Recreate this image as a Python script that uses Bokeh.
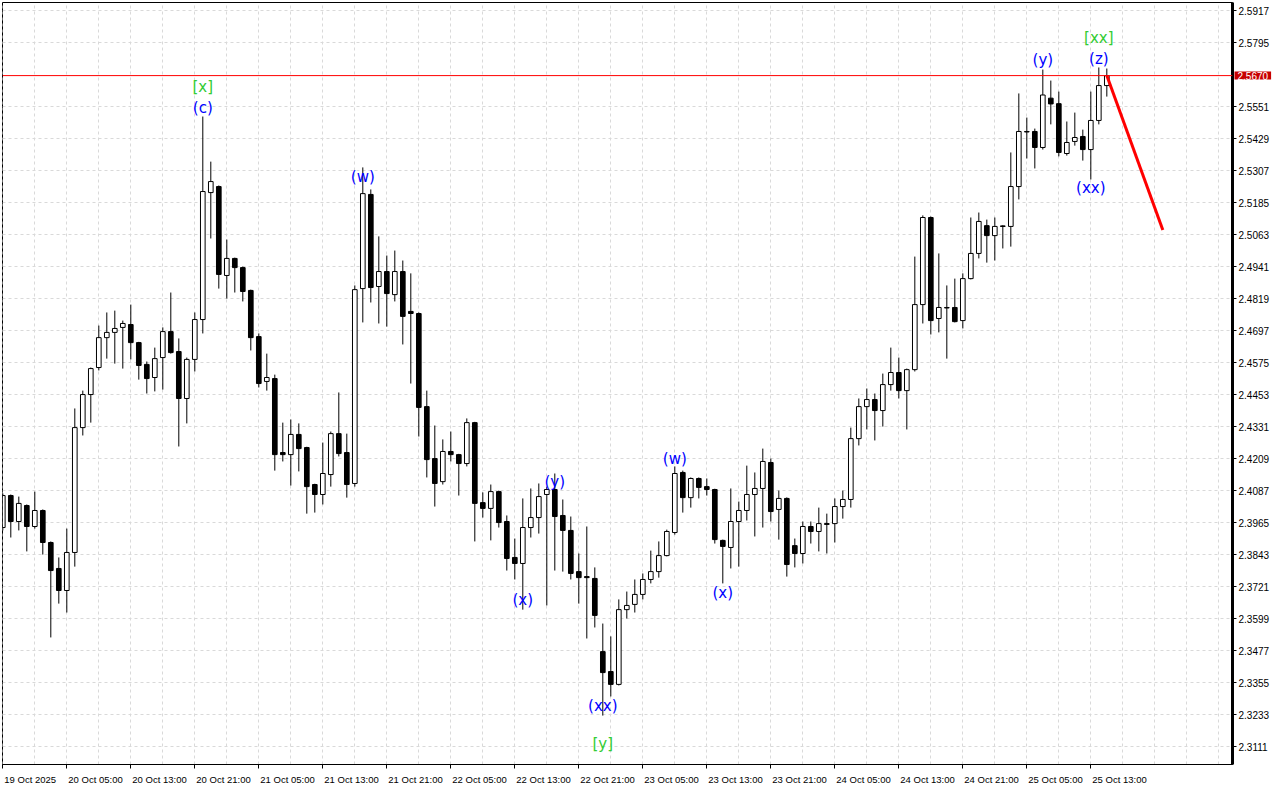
from bokeh.plotting import figure
from bokeh.models import (FixedTicker, Span, Label, ColumnDataSource, Range1d,
                          NumeralTickFormatter, CustomJSTickFormatter, AllLabels)
from bokeh.core.properties import value
from bokeh.embed import file_html
from bokeh.resources import INLINE

# ---- hourly candles, 19 Oct 2025 21:00 .. 25 Oct 2025 23:00 ----
open_ = [2.3947, 2.4069, 2.3970, 2.4031, 2.3951, 2.4012, 2.3890, 2.3791, 2.3707, 2.3852,
         2.4328, 2.4454, 2.4557, 2.4671, 2.4691, 2.4710, 2.4721, 2.4652, 2.4569, 2.4519,
         2.4595, 2.4694, 2.4618, 2.4439, 2.4588, 2.4740, 2.5224, 2.5247, 2.4908, 2.4973,
         2.4938, 2.4851, 2.4675, 2.4504, 2.4515, 2.4233, 2.4225, 2.4302, 2.4252, 2.4111,
         2.4073, 2.4149, 2.4305, 2.4233, 2.4115, 2.4858, 2.5217, 2.4866, 2.4923, 2.4835,
         2.4923, 2.4771, 2.4763, 2.4408, 2.4210, 2.4122, 2.4237, 2.4225, 2.4191, 2.4347,
         2.4042, 2.4020, 2.4084, 2.3970, 2.3833, 2.3810, 2.3947, 2.3985, 2.4073, 2.4092,
         2.3993, 2.3936, 2.3779, 2.3760, 2.3753, 2.3474, 2.3398, 2.3349, 2.3634, 2.3654,
         2.3692, 2.3749, 2.3779, 2.3840, 2.3928, 2.4157, 2.4061, 2.4134, 2.4103, 2.4092,
         2.3898, 2.3871, 2.3970, 2.4012, 2.4073, 2.4096, 2.4195, 2.4016, 2.4058, 2.3878,
         2.3848, 2.3951, 2.3932, 2.3962, 2.3962, 2.4027, 2.4054, 2.4286, 2.4408, 2.4435,
         2.4393, 2.4492, 2.4538, 2.4469, 2.4549, 2.4797, 2.5129, 2.4744, 2.4784, 2.4786,
         2.4736, 2.4896, 2.4992, 2.5098, 2.5060, 2.5097, 2.5095, 2.5247, 2.5455, 2.5457,
         2.5396, 2.5584, 2.5563, 2.5373, 2.5419, 2.5438, 2.5388, 2.5499, 2.5632]
high = [2.4077, 2.4073, 2.4065, 2.4035, 2.4084, 2.4016, 2.3894, 2.3833, 2.3943, 2.4401,
        2.4469, 2.4557, 2.4717, 2.4767, 2.4774, 2.4736, 2.4797, 2.4655, 2.4580, 2.4633,
        2.4710, 2.4843, 2.4668, 2.4595, 2.4767, 2.5514, 2.5342, 2.5251, 2.5045, 2.4976,
        2.4942, 2.4854, 2.4687, 2.4610, 2.4530, 2.4347, 2.4359, 2.4344, 2.4255, 2.4114,
        2.4271, 2.4313, 2.4462, 2.4305, 2.4870, 2.5320, 2.5236, 2.5057, 2.4984, 2.5003,
        2.4965, 2.4916, 2.4767, 2.4469, 2.4336, 2.4283, 2.4313, 2.4228, 2.4363, 2.4350,
        2.4081, 2.4111, 2.4088, 2.3993, 2.3905, 2.4058, 2.4096, 2.4115, 2.4103, 2.4153,
        2.4054, 2.3989, 2.3848, 2.3951, 2.3795, 2.3581, 2.3532, 2.3673, 2.3703, 2.3749,
        2.3772, 2.3859, 2.3894, 2.3939, 2.4180, 2.4164, 2.4138, 2.4138, 2.4134, 2.4095,
        2.3901, 2.4096, 2.4046, 2.4183, 2.4157, 2.4248, 2.4210, 2.4088, 2.4062, 2.3905,
        2.3970, 2.3970, 2.4023, 2.4000, 2.4058, 2.4088, 2.4328, 2.4439, 2.4477, 2.4458,
        2.4534, 2.4633, 2.4595, 2.4553, 2.4980, 2.5137, 2.5133, 2.4992, 2.4870, 2.4896,
        2.4916, 2.5129, 2.5148, 2.5121, 2.5129, 2.5099, 2.5377, 2.5602, 2.5510, 2.5468,
        2.5693, 2.5651, 2.5609, 2.5495, 2.5529, 2.5464, 2.5609, 2.5701, 2.5697]
low = [2.3936, 2.3909, 2.3936, 2.3856, 2.3943, 2.3844, 2.3528, 2.3657, 2.3623, 2.3798,
       2.4298, 2.4347, 2.4546, 2.4591, 2.4572, 2.4553, 2.4588, 2.4511, 2.4458, 2.4466,
       2.4473, 2.4610, 2.4256, 2.4344, 2.4542, 2.4687, 2.5049, 2.4858, 2.4820, 2.4843,
       2.4809, 2.4622, 2.4481, 2.4469, 2.4164, 2.4199, 2.4107, 2.4161, 2.4000, 2.4004,
       2.4035, 2.4103, 2.4218, 2.4061, 2.4103, 2.4729, 2.4805, 2.4725, 2.4713, 2.4809,
       2.4645, 2.4496, 2.4294, 2.4138, 2.4027, 2.4111, 2.4199, 2.4069, 2.4180, 2.3894,
       2.3985, 2.3898, 2.3947, 2.3783, 2.3749, 2.3634, 2.3909, 2.3924, 2.3650, 2.3783,
       2.3779, 2.3749, 2.3657, 2.3524, 2.3566, 2.3230, 2.3303, 2.3345, 2.3600, 2.3623,
       2.3673, 2.3734, 2.3756, 2.3837, 2.3920, 2.4004, 2.4023, 2.4058, 2.4069, 2.3886,
       2.3734, 2.3791, 2.3798, 2.3974, 2.3913, 2.3947, 2.3970, 2.3901, 2.3760, 2.3795,
       2.3810, 2.3886, 2.3856, 2.3848, 2.3890, 2.3981, 2.4023, 2.4260, 2.4321, 2.4279,
       2.4332, 2.4469, 2.4439, 2.4321, 2.4542, 2.4725, 2.4683, 2.4691, 2.4591, 2.4729,
       2.4706, 2.4893, 2.4973, 2.4957, 2.4965, 2.5011, 2.5018, 2.5198, 2.5354, 2.5316,
       2.5388, 2.5484, 2.5362, 2.5365, 2.5403, 2.5346, 2.5274, 2.5484, 2.5590]
close = [2.4069, 2.3970, 2.4039, 2.3951, 2.4012, 2.3890, 2.3783, 2.3707, 2.3852, 2.4328,
         2.4454, 2.4553, 2.4671, 2.4691, 2.4706, 2.4725, 2.4652, 2.4565, 2.4515, 2.4591,
         2.4694, 2.4614, 2.4439, 2.4588, 2.4740, 2.5228, 2.5266, 2.4912, 2.4973, 2.4938,
         2.4847, 2.4671, 2.4496, 2.4519, 2.4225, 2.4225, 2.4302, 2.4248, 2.4103, 2.4073,
         2.4153, 2.4305, 2.4229, 2.4111, 2.4854, 2.5220, 2.4862, 2.4923, 2.4839, 2.4923,
         2.4752, 2.4763, 2.4405, 2.4206, 2.4115, 2.4237, 2.4225, 2.4191, 2.4347, 2.4039,
         2.4020, 2.4084, 2.3966, 2.3829, 2.3810, 2.3947, 2.3985, 2.4065, 2.4092, 2.3989,
         2.3936, 2.3772, 2.3756, 2.3756, 2.3612, 2.3394, 2.3349, 2.3634, 2.3650, 2.3692,
         2.3749, 2.3779, 2.3840, 2.3932, 2.4153, 2.4061, 2.4134, 2.4100, 2.4092, 2.3901,
         2.3875, 2.3970, 2.4012, 2.4073, 2.4096, 2.4199, 2.4008, 2.4058, 2.3806, 2.3848,
         2.3951, 2.3932, 2.3962, 2.3959, 2.4027, 2.4054, 2.4286, 2.4408, 2.4435, 2.4393,
         2.4492, 2.4538, 2.4469, 2.4549, 2.4797, 2.5129, 2.4736, 2.4786, 2.4786, 2.4732,
         2.4896, 2.4992, 2.5114, 2.5060, 2.5095, 2.5095, 2.5247, 2.5457, 2.5457, 2.5396,
         2.5596, 2.5562, 2.5377, 2.5415, 2.5434, 2.5388, 2.5499, 2.5632, 2.5670]

# time axis labels (one every 8 bars, first bar = 19 Oct 2025 21:00)
date_labels = ["19 Oct 2025", "20 Oct 05:00", "20 Oct 13:00", "20 Oct 21:00", "21 Oct 05:00",
               "21 Oct 13:00", "21 Oct 21:00", "22 Oct 05:00", "22 Oct 13:00", "22 Oct 21:00",
               "23 Oct 05:00", "23 Oct 13:00", "23 Oct 21:00", "24 Oct 05:00", "24 Oct 13:00",
               "24 Oct 21:00", "25 Oct 05:00", "25 Oct 13:00"]
date_label_bars = [0, 8, 16, 24, 32, 40, 48, 56, 64, 72, 80, 88, 96, 104, 112, 120, 128, 136]

# price scale
price_ticks = [2.3111, 2.3233, 2.3355, 2.3477, 2.3599, 2.3721, 2.3843, 2.3965, 2.4087,
               2.4209, 2.4331, 2.4453, 2.4575, 2.4697, 2.4819, 2.4941, 2.5063, 2.5185,
               2.5307, 2.5429, 2.5551, 2.5795, 2.5917]
current_price = 2.5670

# Elliott wave marks
wave_bars = [25, 25, 45, 65, 69, 75, 75, 84, 90, 130, 137, 137, 136]
wave_prices = [2.5628, 2.5548, 2.5282, 2.3669, 2.4119, 2.3268, 2.3120, 2.4210, 2.3696,
               2.5728, 2.5815, 2.5733, 2.5240]
wave_texts = ["[x]", "(c)", "(w)", "(x)", "(y)", "(xx)", "[y]", "(w)", "(x)",
              "(y)", "[xx]", "(z)", "(xx)"]

# forecast line
forecast_bars = [138, 145]
forecast_prices = [2.5670, 2.5081]

# ---------------------------------------------------------------
n = len(open_)
bars = list(range(n))
bull = [c >= o for o, c in zip(open_, close)]
src = ColumnDataSource(dict(
    x=bars, o=open_, h=high, l=low, c=close,
    top=[max(o, c) if abs(c - o) > 0.00015 else (o + c) / 2 + 0.0001 for o, c in zip(open_, close)],
    bottom=[min(o, c) if abs(c - o) > 0.00015 else (o + c) / 2 - 0.0001 for o, c in zip(open_, close)],
    fill=["white" if b else "black" for b in bull],
))

FRAME_W, FRAME_H = 1230, 762
y_lo, y_hi = 2.30436, 2.59487
x_lo, x_hi = -0.0375, 153.71
px_per_bar = FRAME_W / (x_hi - x_lo)

p = figure(frame_width=FRAME_W, frame_height=FRAME_H, output_backend="svg",
           toolbar_location=None,
           x_range=Range1d(x_lo, x_hi), y_range=Range1d(y_lo, y_hi),
           y_axis_location="right", min_border_left=2, min_border_top=2,
           min_border_right=40, min_border_bottom=10)
p.background_fill_color = "white"
p.border_fill_color = "white"
p.outline_line_color = "black"
p.outline_line_width = 1

# grid
p.xgrid.ticker = FixedTicker(ticks=list(range(0, 156, 4)))
p.ygrid.ticker = FixedTicker(ticks=price_ticks)
for g in (p.xgrid, p.ygrid):
    g.grid_line_color = "#d9d9d9"
    g.grid_line_dash = "3 3"
    g.grid_line_width = 1

# right price axis
ya = p.yaxis[0]
ya.ticker = FixedTicker(ticks=price_ticks)
ya.formatter = NumeralTickFormatter(format="0.0000")
ya.major_tick_out = 4
ya.major_tick_in = 0
ya.minor_tick_out = 0
ya.minor_tick_in = 0
ya.major_label_standoff = 2
ya.axis_line_width = 3
ya.axis_line_color = "black"
ya.major_label_text_font = "Liberation Sans"
ya.major_label_text_font_size = "10px"
ya.major_label_text_color = "black"

# bottom time axis: tick marks at the bars (minor ticks), labels start just right of them
FONT_PX = 9.5
char_w = {c: 0.556 for c in "0123456789"}
char_w.update({" ": 0.278, ":": 0.278, "O": 0.778, "c": 0.5, "t": 0.278})
label_centres = []
for b, t in zip(date_label_bars, date_labels):
    w = sum(char_w.get(ch, 0.55) for ch in t) * FONT_PX
    label_centres.append(b + (1.5 + w / 2) / px_per_bar)

xa = p.xaxis[0]
xa.ticker = FixedTicker(ticks=label_centres, minor_ticks=date_label_bars)
xa.formatter = CustomJSTickFormatter(args=dict(labels=date_labels), code="""
    const i = Math.round((tick - 3.5) / 8);
    return (i >= 0 && i < labels.length) ? labels[i] : "";
""")
xa.major_label_policy = AllLabels()
xa.major_tick_out = 0
xa.major_tick_in = 0
xa.minor_tick_out = 4
xa.minor_tick_in = 0
xa.minor_tick_line_color = "black"
xa.major_label_standoff = 5
xa.axis_line_color = "black"
xa.major_label_text_font = "Liberation Sans"
xa.major_label_text_font_size = f"{FONT_PX}px"
xa.major_label_text_color = "black"

# candles
p.segment(x0="x", y0="l", x1="x", y1="h", source=src, line_color="black", line_width=1)
p.vbar(x="x", top="top", bottom="bottom", width=0.58, source=src,
       fill_color="fill", line_color="black", line_width=1)

# current price line + box on the price scale
p.add_layout(Span(location=current_price, dimension="width", line_color="#ff0000",
                  line_width=1, level="overlay"))
box_kw = dict(x=x_hi, y=current_price, x_offset=2, text=f"{current_price:.4f}",
              text_align="left", text_baseline="middle",
              text_font="Liberation Sans", text_font_size="10px",
              text_color="white", background_fill_color="#c80000")
try:
    price_box = Label(padding=dict(left=3, right=3, top=0, bottom=0), **box_kw)
except Exception:
    price_box = Label(**box_kw)
p.add_layout(price_box, "below")

# forecast
p.line(forecast_bars, forecast_prices, line_color="#ff0000", line_width=3)

# wave labels
wsrc = ColumnDataSource(dict(
    x=wave_bars, y=wave_prices, t=wave_texts,
    col=["#33cc33" if t.startswith("[") else "#0000ff" for t in wave_texts]))
p.text(x="x", y="y", text="t", source=wsrc, text_color="col",
       text_font=value("DejaVu Sans"), text_font_size="15px",
       text_align="center", text_baseline="middle")

open("out.html", "w").write(file_html(p, INLINE))
